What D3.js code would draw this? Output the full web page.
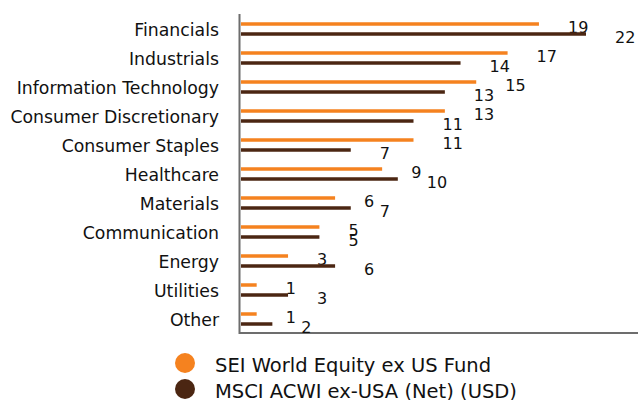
<!DOCTYPE html>
<html>
<head>
<meta charset="utf-8">
<script src="https://cdn.jsdelivr.net/npm/d3@7"></script>
<style>
  body { margin: 0; background: #fff; }
  svg { display: block; font-family: "DejaVu Sans", sans-serif; }
</style>
</head>
<body>
<div id="chart"></div>
<script>
const sectors = ["Financials", "Industrials", "Information Technology", "Consumer Discretionary",
  "Consumer Staples", "Healthcare", "Materials", "Communication", "Energy", "Utilities", "Other"];
const fundValues = [19, 17, 15, 13, 11, 9, 6, 5, 3, 1, 1];
const indexValues = [22, 14, 13, 11, 7, 10, 7, 5, 6, 3, 2];
const seriesNames = ["SEI World Equity ex US Fund", "MSCI ACWI ex-USA (Net) (USD)"];
const seriesColors = ["#f5821f", "#4b2612"];

const width = 638, height = 400;
const svg = d3.select("#chart").append("svg")
    .attr("width", width)
    .attr("height", height);

const x = d3.scaleLinear().domain([0, 22]).range([241, 586]);
const y = d3.scaleBand().domain(sectors).range([14, 333]);
const barOffset = [-4.5, 5.5];

// axes lines
svg.append("line")
    .attr("x1", 239.5).attr("x2", 239.5).attr("y1", 14).attr("y2", 334)
    .attr("stroke", "#6d6d6d").attr("stroke-width", 2);
svg.append("line")
    .attr("x1", 239).attr("x2", width).attr("y1", 333).attr("y2", 333)
    .attr("stroke", "#6d6d6d").attr("stroke-width", 2);

// category labels
svg.selectAll(".cat")
    .data(sectors)
    .enter().append("text")
    .attr("class", "cat")
    .attr("x", 219)
    .attr("y", d => y(d) + y.bandwidth() / 2 + 1)
    .attr("dy", "0.35em")
    .attr("text-anchor", "end")
    .attr("font-size", 17.3)
    .attr("fill", "#111")
    .text(d => d);

[fundValues, indexValues].forEach(function(vals, s) {
    const rows = sectors.map((d, i) => ({ sector: d, value: vals[i] }));
    svg.selectAll(".bar" + s)
        .data(rows)
        .enter().append("line")
        .attr("class", "bar" + s)
        .attr("x1", x(0))
        .attr("x2", d => x(d.value))
        .attr("y1", d => y(d.sector) + y.bandwidth() / 2 + barOffset[s])
        .attr("y2", d => y(d.sector) + y.bandwidth() / 2 + barOffset[s])
        .attr("stroke", seriesColors[s])
        .attr("stroke-width", 3.5);
    svg.selectAll(".val" + s)
        .data(rows)
        .enter().append("text")
        .attr("class", "val" + s)
        .attr("x", d => x(d.value) + 29)
        .attr("y", d => y(d.sector) + y.bandwidth() / 2 + barOffset[s] + 3)
        .attr("dy", "0.35em")
        .attr("font-size", 16)
        .attr("fill", "#111")
        .text(d => d.value);
});

// legend
const legend = svg.selectAll(".legend")
    .data(seriesNames)
    .enter().append("g")
    .attr("class", "legend")
    .attr("transform", (d, i) => "translate(185," + (363 + i * 26) + ")");
legend.append("circle")
    .attr("r", 10)
    .attr("fill", (d, i) => seriesColors[i]);
legend.append("text")
    .attr("x", 30)
    .attr("y", 2)
    .attr("dy", "0.35em")
    .attr("font-size", 19.5)
    .attr("fill", "#111")
    .text(d => d);
</script>
</body>
</html>
